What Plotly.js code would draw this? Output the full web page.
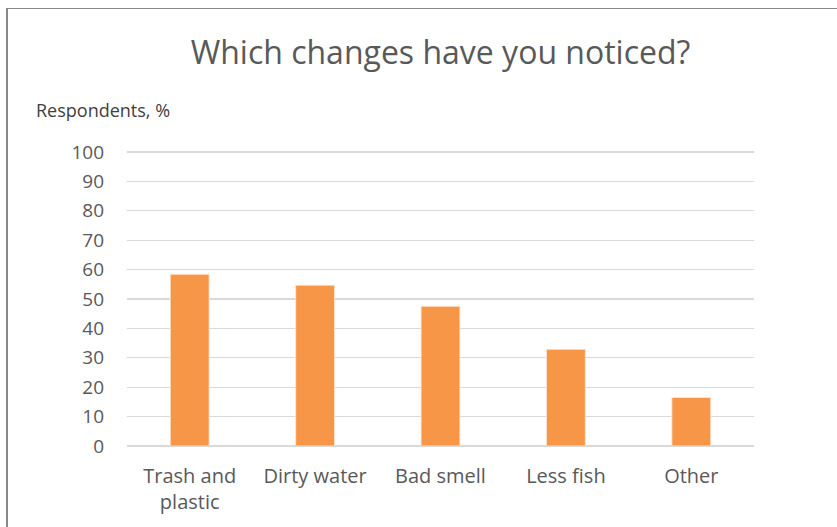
<!DOCTYPE html>
<html>
<head>
<meta charset="utf-8">
<script src="https://cdn.plot.ly/plotly-3.0.1.min.js"></script>
<style>
  html, body { margin: 0; padding: 0; background: #ffffff; overflow: hidden; }
  #chart { width: 837px; height: 527px; }
  #frame {
    position: absolute; left: 6px; top: 8px; width: 900px; height: 600px;
    border-left: 2px solid #878787; border-top: 1px solid #878787;
    box-sizing: border-box; pointer-events: none;
  }
</style>
</head>
<body>
<div id="chart"></div>
<div id="frame"></div>
<script>
// Survey answers: share of respondents noticing each change
const categories = ["Trash and<br>plastic", "Dirty water", "Bad smell", "Less fish", "Other"];
const respondentsPct = [58.4, 54.7, 47.5, 32.9, 16.5];
const yTickValues = [0, 10, 20, 30, 40, 50, 60, 70, 80, 90, 100];

const FONT = "'Open Sans', 'Noto Sans', sans-serif";

const bars = {
  type: "bar",
  x: categories,
  y: respondentsPct,
  width: 0.31,
  marker: { color: "#f79646", line: { color: "rgba(255,230,210,0.9)", width: 1 } },
  hoverinfo: "x+y"
};

const layout = {
  width: 837,
  height: 527,
  margin: { l: 127, r: 83, t: 149, b: 81 },
  paper_bgcolor: "#ffffff",
  plot_bgcolor: "#ffffff",
  showlegend: false,
  font: { family: FONT, color: "#595959" },
  title: {
    text: "Which changes have you noticed?",
    font: { family: FONT, size: 32, color: "#595959" },
    xref: "paper", x: 0.5, xanchor: "center",
    yref: "container", y: 1 - 53 / 527, yanchor: "middle"
  },
  xaxis: {
    type: "category",
    showgrid: false,
    showline: false,
    zeroline: false,
    ticks: "",
    ticklabelstandoff: 16,
    tickfont: { family: FONT, size: 20, color: "#595959" }
  },
  yaxis: {
    range: [0, 101],
    tickvals: yTickValues,
    ticktext: yTickValues.map(String),
    showgrid: true,
    gridcolor: "#d9d9d9",
    gridwidth: 1.3,
    zeroline: true,
    zerolinecolor: "#d9d9d9",
    zerolinewidth: 1.3,
    showline: false,
    ticks: "",
    ticklabelstandoff: 22,
    tickfont: { family: FONT, size: 19, color: "#595959" }
  },
  annotations: [{
    text: "Respondents, %",
    xref: "paper", x: (34 - 127) / 627, xanchor: "left",
    yref: "paper", y: (446 - 110) / 297, yanchor: "middle",
    showarrow: false,
    font: { family: FONT, size: 18, color: "#404040" }
  }]
};

Plotly.newPlot("chart", [bars], layout, { displayModeBar: false, staticPlot: true });
</script>
</body>
</html>
